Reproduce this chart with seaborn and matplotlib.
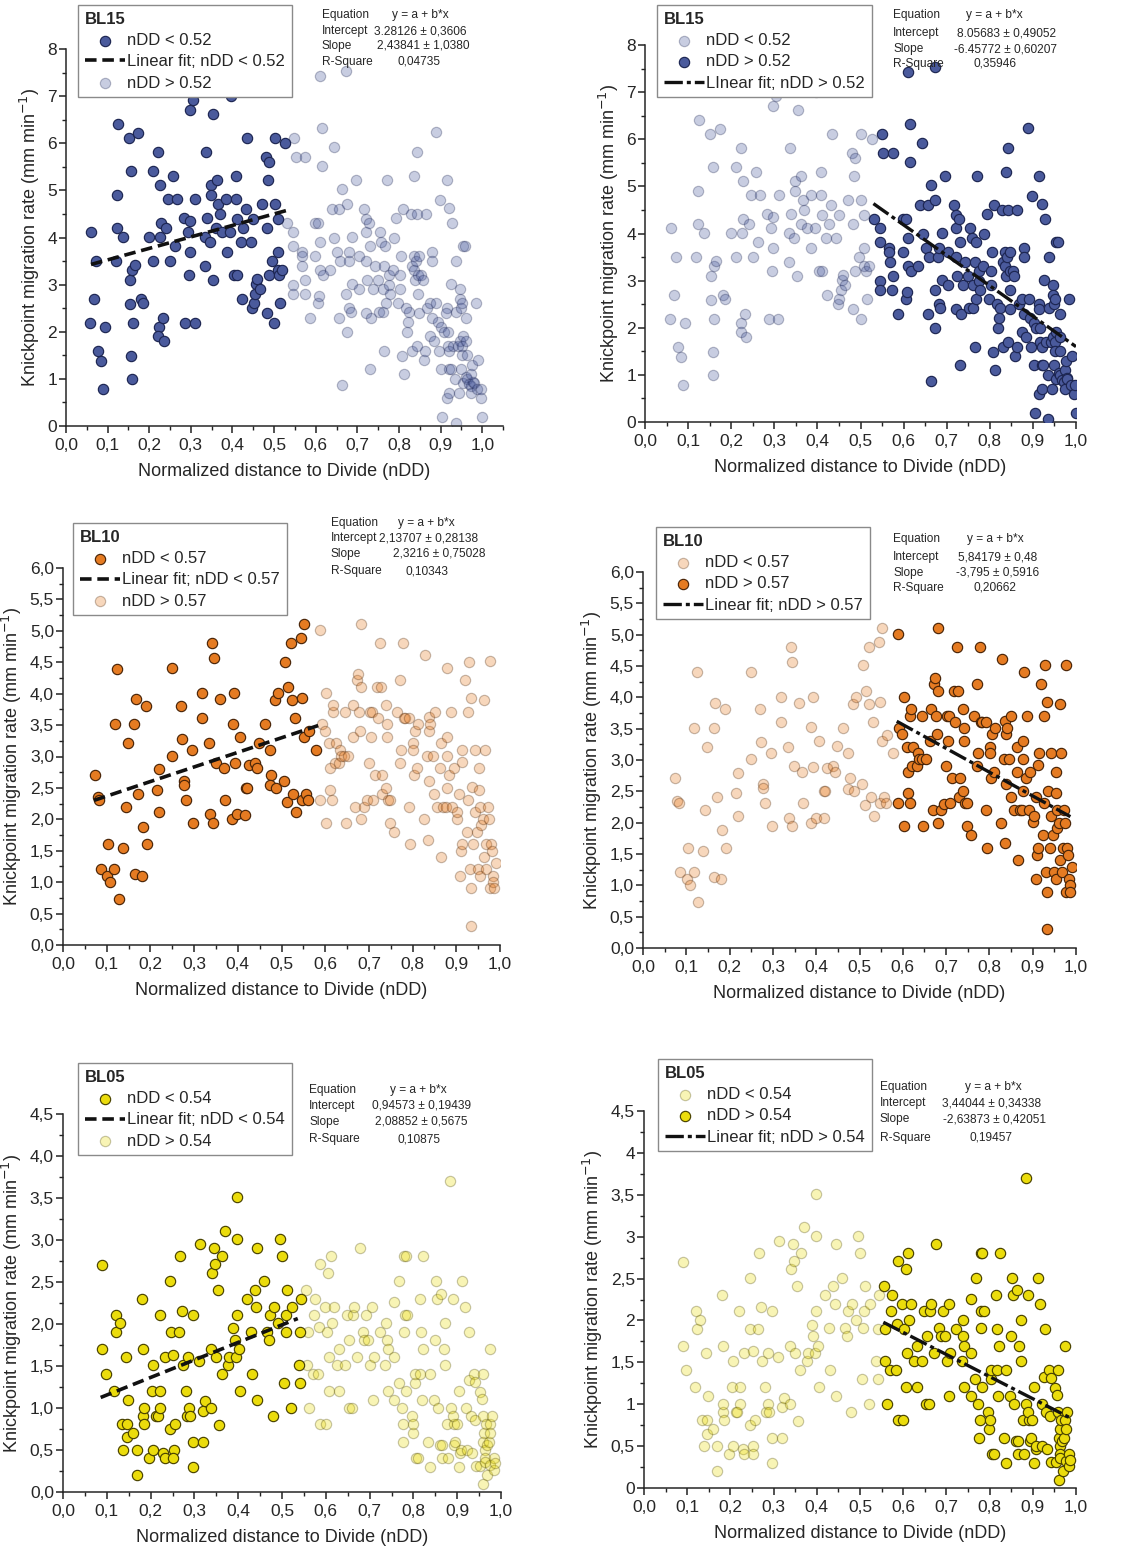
import numpy as np
import pandas as pd
import matplotlib
matplotlib.use("Agg")
import matplotlib.pyplot as plt
from matplotlib.ticker import MultipleLocator, FuncFormatter
import seaborn as sns

# ---- BL15 (split at nDD 0.52) ----
bl15_lo = [(0.060,4.11),(0.058,2.19),(0.068,2.70),(0.072,3.51),(0.077,1.59),(0.083,1.38),(0.093,2.10),(0.088,0.79),
           (0.125,6.41),(0.122,4.90),(0.123,4.21),(0.119,3.51),(0.138,4.01),(0.151,6.12),(0.157,5.41),(0.174,6.22),
           (0.154,3.10),(0.159,3.30),(0.165,3.41),(0.153,2.59),(0.161,2.19),(0.157,1.49),(0.158,0.99),(0.180,2.70),
           (0.185,2.61),(0.200,4.01),(0.210,5.41),(0.222,5.81),(0.210,3.51),(0.227,5.11),(0.228,4.31),(0.226,4.01),
           (0.241,4.21),(0.223,2.11),(0.222,1.90),(0.232,2.30),(0.235,1.80),(0.245,4.81),(0.251,3.51),(0.258,5.31),
           (0.266,4.81),(0.262,3.81),(0.284,4.41),(0.292,4.11),(0.297,4.35),(0.287,2.19),(0.309,2.19),(0.297,6.71),
           (0.304,6.92),(0.310,4.81),(0.298,3.70),(0.295,3.20),(0.336,5.81),(0.335,3.40),(0.339,4.41),(0.335,4.01),
           (0.345,3.91),(0.349,5.11),(0.349,4.91),(0.353,3.09),(0.354,6.62),(0.363,5.22),(0.366,4.71),(0.361,4.21),
           (0.369,4.50),(0.375,4.11),(0.385,4.81),(0.394,4.11),(0.386,3.70),(0.396,7.01),(0.408,5.31),(0.409,4.81),
           (0.411,4.40),(0.404,3.20),(0.411,3.20),(0.434,6.11),(0.432,4.61),(0.426,4.21),(0.421,3.91),(0.423,2.70),
           (0.444,3.91),(0.449,4.40),(0.447,2.51),(0.451,2.61),(0.454,2.80),(0.457,3.02),(0.460,3.12),(0.465,2.90),
           (0.470,4.71),(0.480,5.71),(0.487,5.61),(0.486,5.22),(0.482,4.21),(0.482,2.39),(0.488,3.20),(0.496,3.50),
           (0.500,2.19),(0.502,4.71),(0.502,6.11),(0.509,4.40),(0.509,3.70),(0.509,3.30),(0.512,3.20),(0.520,3.30),
           (0.515,2.61),(0.527,6.01)]
bl15_hi = [(0.532,4.30),(0.545,4.11),(0.545,3.81),(0.549,6.11),(0.553,5.71),(0.575,5.71),(0.545,3.00),(0.545,2.80),
           (0.566,3.70),(0.566,3.60),(0.568,3.40),(0.575,3.10),(0.574,2.80),(0.586,2.30),(0.598,3.60),(0.599,4.31),
           (0.606,4.31),(0.610,3.91),(0.610,7.43),(0.615,6.32),(0.614,5.51),(0.610,3.30),(0.606,2.61),(0.609,2.75),
           (0.618,3.20),(0.634,3.31),(0.643,5.91),(0.638,4.61),(0.645,3.99),(0.651,3.70),(0.657,4.61),(0.663,5.02),
           (0.659,3.50),(0.656,2.30),(0.664,0.88),(0.672,7.53),(0.674,4.71),(0.673,2.80),(0.674,2.00),(0.679,3.50),
           (0.681,3.70),(0.688,4.01),(0.688,3.01),(0.697,5.21),(0.703,3.60),(0.703,2.90),(0.681,2.51),(0.684,2.41),
           (0.717,4.61),(0.721,4.40),(0.721,4.11),(0.722,3.50),(0.723,3.10),(0.729,4.30),(0.731,3.81),(0.721,2.39),
           (0.733,2.30),(0.731,1.20),(0.737,2.90),(0.742,3.40),(0.749,3.10),(0.752,2.41),(0.762,2.41),(0.754,4.11),
           (0.758,3.90),(0.767,3.81),(0.765,3.40),(0.761,2.90),(0.768,2.61),(0.765,1.59),(0.771,5.21),(0.776,3.20),
           (0.775,3.00),(0.778,2.80),(0.787,3.99),(0.785,3.30),(0.793,4.41),(0.797,2.61),(0.802,2.90),(0.805,3.60),
           (0.803,3.20),(0.807,1.49),(0.810,4.61),(0.813,1.10),(0.817,2.51),(0.819,2.00),(0.823,2.41),(0.821,2.21),
           (0.829,4.50),(0.831,1.59),(0.831,3.40),(0.835,3.60),(0.835,3.30),(0.837,5.31),(0.840,3.50),(0.838,3.10),
           (0.843,5.82),(0.843,4.50),(0.843,1.70),(0.847,3.60),(0.846,3.20),(0.846,2.80),(0.848,2.39),(0.853,3.20),
           (0.857,3.10),(0.859,1.40),(0.863,1.59),(0.864,4.50),(0.867,2.51),(0.875,2.61),(0.879,3.70),(0.880,3.50),
           (0.880,2.30),(0.875,1.90),(0.884,1.80),(0.888,6.23),(0.890,2.61),(0.893,2.21),(0.898,4.80),(0.896,1.59),
           (0.902,1.20),(0.902,2.11),(0.904,0.19),(0.908,2.00),(0.915,5.21),(0.915,2.51),(0.914,2.39),(0.917,2.00),
           (0.917,1.70),(0.920,1.59),(0.920,1.20),(0.921,4.62),(0.927,4.31),(0.925,3.01),(0.924,1.20),(0.915,0.60),
           (0.920,0.69),(0.930,1.70),(0.934,1.00),(0.936,0.07),(0.938,3.50),(0.938,2.41),(0.941,1.70),(0.944,0.69),
           (0.947,2.90),(0.947,2.70),(0.948,2.51),(0.951,2.61),(0.947,1.80),(0.950,1.20),(0.951,1.70),(0.952,1.50),
           (0.953,3.81),(0.958,3.81),(0.954,0.91),(0.954,1.90),(0.962,1.80),(0.962,2.30),(0.964,1.50),(0.960,1.05),
           (0.964,0.99),(0.968,0.89),(0.972,0.84),(0.974,1.10),(0.976,1.30),(0.974,0.69),(0.978,0.94),(0.980,0.91),
           (0.984,2.61),(0.988,0.79),(0.990,1.40),(0.996,0.59),(0.998,0.79),(0.999,0.19)]

# ---- BL10 (split at nDD 0.57) ----
bl10_lo = [(0.073,2.71),(0.079,2.35),(0.082,2.31),(0.086,1.21),(0.101,1.10),(0.103,1.60),(0.108,1.00),(0.117,1.21),
           (0.118,3.51),(0.124,4.40),(0.128,0.74),(0.138,1.55),(0.144,2.20),(0.148,3.21),(0.163,3.51),(0.166,3.91),
           (0.164,1.13),(0.171,2.41),(0.180,1.10),(0.182,1.88),(0.190,3.81),(0.192,1.60),(0.214,2.47),(0.220,2.80),
           (0.220,2.11),(0.250,3.01),(0.250,4.41),(0.271,3.81),(0.272,3.28),(0.276,2.61),(0.278,2.55),(0.281,2.31),
           (0.295,3.11),(0.298,1.94),(0.318,4.01),(0.318,3.61),(0.334,3.21),(0.337,2.08),(0.342,4.81),(0.345,4.56),
           (0.344,1.94),(0.349,2.90),(0.360,3.91),(0.368,2.81),(0.370,2.31),(0.389,3.52),(0.392,4.01),(0.393,2.89),
           (0.387,2.00),(0.399,2.08),(0.406,3.31),(0.417,2.07),(0.418,2.50),(0.421,2.50),(0.426,2.87),(0.439,2.90),
           (0.443,2.81),(0.449,3.22),(0.463,3.51),(0.473,3.11),(0.477,2.71),(0.473,2.54),(0.484,3.90),(0.487,2.50),
           (0.493,4.01),(0.505,2.61),(0.508,4.51),(0.513,2.28),(0.516,4.10),(0.522,4.81),(0.523,3.90),(0.531,3.61),
           (0.527,2.41),(0.533,2.11),(0.544,4.88),(0.548,3.93),(0.551,5.11),(0.551,3.31),(0.547,2.31),(0.557,2.41),
           (0.561,2.31),(0.563,3.40),(0.578,3.11)]
bl10_hi = [(0.589,5.01),(0.589,2.31),(0.592,3.51),(0.599,3.41),(0.602,4.01),(0.602,1.94),(0.609,3.21),(0.611,2.81),
           (0.612,2.47),(0.616,2.31),(0.617,3.71),(0.618,3.82),(0.624,3.21),(0.622,2.90),(0.632,2.90),(0.634,3.11),
           (0.637,3.01),(0.645,3.71),(0.647,1.94),(0.644,3.01),(0.653,3.01),(0.663,3.31),(0.664,3.82),(0.669,2.20),
           (0.673,4.22),(0.674,4.31),(0.677,3.71),(0.679,3.41),(0.682,4.10),(0.682,2.00),(0.681,5.11),(0.689,2.20),
           (0.695,2.30),(0.700,2.90),(0.702,3.71),(0.704,3.31),(0.707,3.71),(0.710,2.31),(0.714,2.71),(0.718,4.10),
           (0.721,3.61),(0.725,4.81),(0.728,4.10),(0.729,2.41),(0.731,2.71),(0.740,3.82),(0.742,3.51),(0.742,3.31),
           (0.740,2.50),(0.743,2.31),(0.748,2.31),(0.748,1.94),(0.757,1.80),(0.765,3.71),(0.771,4.22),(0.771,2.90),
           (0.774,3.11),(0.779,4.81),(0.780,3.61),(0.783,3.61),(0.792,3.61),(0.792,2.20),(0.795,1.60),(0.802,3.21),
           (0.802,3.11),(0.803,2.71),(0.805,3.41),(0.811,2.81),(0.813,3.51),(0.826,2.00),(0.828,4.61),(0.834,3.01),
           (0.837,3.63),(0.838,3.41),(0.840,3.51),(0.836,1.67),(0.838,2.61),(0.846,3.01),(0.851,3.71),(0.850,2.41),
           (0.856,2.20),(0.864,3.21),(0.866,1.40),(0.863,2.81),(0.870,2.20),(0.876,2.20),(0.879,4.41),(0.878,3.31),
           (0.878,3.01),(0.878,2.50),(0.884,2.71),(0.887,3.71),(0.891,2.20),(0.894,2.81),(0.901,2.01),(0.902,2.11),
           (0.907,2.41),(0.908,1.10),(0.910,1.49),(0.912,1.60),(0.913,2.92),(0.914,3.11),(0.920,4.21),(0.924,1.80),
           (0.927,2.31),(0.928,4.51),(0.927,3.71),(0.931,1.21),(0.933,0.90),(0.933,3.93),(0.935,2.51),(0.939,1.60),
           (0.943,3.11),(0.943,2.11),(0.947,1.80),(0.950,1.21),(0.953,2.81),(0.953,2.47),(0.955,2.20),(0.956,1.91),
           (0.954,1.10),(0.960,2.00),(0.963,1.40),(0.963,3.90),(0.966,3.11),(0.968,1.21),(0.969,1.60),(0.973,2.20),
           (0.974,2.00),(0.976,4.52),(0.977,0.90),(0.979,1.60),(0.981,1.49),(0.983,1.10),(0.985,1.00),(0.986,0.90),
           (0.991,1.30),(0.933,0.30)]

# ---- BL05 (split at nDD 0.54) ----
bl05_lo = [(0.090,2.70),(0.090,1.70),(0.098,1.41),(0.117,1.20),(0.120,2.11),(0.122,1.90),(0.130,2.01),(0.134,0.81),
           (0.138,0.50),(0.143,1.61),(0.146,0.81),(0.145,0.65),(0.149,1.10),(0.159,0.70),(0.169,0.50),(0.168,0.20),
           (0.181,2.30),(0.183,1.70),(0.182,0.91),(0.184,1.00),(0.185,0.81),(0.196,0.41),(0.205,1.51),(0.204,1.20),
           (0.206,0.50),(0.212,0.91),(0.216,0.91),(0.221,2.11),(0.222,1.20),(0.222,1.00),(0.232,1.61),(0.229,0.46),
           (0.232,0.41),(0.245,2.51),(0.246,1.90),(0.245,0.75),(0.252,1.63),(0.253,0.50),(0.252,0.41),(0.256,0.81),
           (0.265,1.90),(0.267,2.81),(0.271,2.16),(0.273,1.51),(0.280,1.20),(0.283,0.91),(0.286,1.61),(0.287,1.00),
           (0.290,0.91),(0.296,0.60),(0.297,2.11),(0.297,0.30),(0.312,2.95),(0.311,1.56),(0.319,0.60),(0.319,0.97),
           (0.324,1.08),(0.337,1.00),(0.337,1.70),(0.341,2.61),(0.347,2.71),(0.345,2.91),(0.349,1.61),(0.354,2.41),
           (0.357,0.80),(0.362,1.41),(0.364,2.81),(0.370,3.11),(0.377,1.51),(0.380,1.61),(0.389,1.95),(0.392,1.81),
           (0.395,1.61),(0.397,3.01),(0.398,3.51),(0.398,2.11),(0.402,1.70),(0.404,1.20),(0.419,2.30),(0.429,1.91),
           (0.431,1.41),(0.438,2.41),(0.441,2.20),(0.444,2.91),(0.444,1.10),(0.459,2.51),(0.466,1.91),(0.471,1.81),
           (0.473,2.11),(0.479,0.91),(0.482,2.20),(0.490,2.01),(0.495,3.01),(0.501,2.81),(0.505,1.30),(0.508,1.91),
           (0.509,2.11),(0.512,2.41),(0.521,1.00),(0.523,2.20),(0.538,1.51),(0.541,1.30),(0.542,1.90),(0.544,2.30)]
bl05_hi = [(0.555,2.41),(0.558,1.51),(0.559,1.90),(0.562,1.00),(0.570,1.41),(0.572,2.11),(0.575,2.30),(0.583,1.41),
           (0.585,1.96),(0.587,2.71),(0.587,0.81),(0.598,2.20),(0.600,0.81),(0.602,1.90),(0.606,2.61),(0.607,1.20),
           (0.608,1.61),(0.611,2.81),(0.614,2.01),(0.619,2.20),(0.625,1.51),(0.631,1.70),(0.631,1.20),(0.644,1.51),
           (0.648,2.11),(0.652,1.00),(0.654,1.81),(0.660,1.00),(0.662,2.11),(0.665,2.20),(0.671,1.61),(0.677,2.91),
           (0.684,1.91),(0.688,1.81),(0.692,2.11),(0.696,1.81),(0.701,1.51),(0.706,2.20),(0.707,1.10),(0.709,1.61),
           (0.723,1.90),(0.735,1.51),(0.738,2.01),(0.739,1.81),(0.741,1.70),(0.741,1.20),(0.756,1.10),(0.756,1.61),
           (0.756,2.26),(0.768,2.51),(0.767,1.30),(0.773,1.00),(0.777,0.81),(0.776,0.60),(0.779,1.91),(0.779,2.81),
           (0.781,2.11),(0.783,2.81),(0.783,1.20),(0.786,2.11),(0.797,0.91),(0.799,0.70),(0.800,0.81),(0.804,1.30),
           (0.804,1.41),(0.806,0.41),(0.811,0.41),(0.814,2.30),(0.816,1.41),(0.817,1.90),(0.819,1.10),(0.821,1.70),
           (0.823,2.81),(0.834,0.60),(0.837,0.30),(0.838,1.41),(0.848,1.10),(0.850,1.81),(0.851,2.51),(0.854,2.30),
           (0.857,1.00),(0.860,0.56),(0.863,2.36),(0.865,0.56),(0.865,0.41),(0.869,1.70),(0.872,1.51),(0.873,2.01),
           (0.877,0.81),(0.880,0.41),(0.884,3.70),(0.885,1.00),(0.890,2.30),(0.892,0.81),(0.890,0.91),(0.893,0.56),
           (0.896,0.60),(0.899,0.81),(0.903,1.20),(0.903,0.30),(0.907,0.46),(0.908,0.50),(0.912,2.51),(0.917,2.20),
           (0.921,1.00),(0.922,0.50),(0.926,1.33),(0.928,1.90),(0.931,0.91),(0.933,0.46),(0.938,1.41),(0.940,0.86),
           (0.941,1.31),(0.943,0.31),(0.951,1.19),(0.953,0.31),(0.957,1.11),(0.959,1.41),(0.959,0.91),(0.960,0.60),
           (0.960,0.10),(0.962,0.70),(0.963,0.50),(0.963,0.41),(0.964,0.36),(0.966,0.81),(0.968,0.56),(0.969,0.20),
           (0.972,0.60),(0.974,0.81),(0.976,0.70),(0.976,0.32),(0.974,1.70),(0.980,0.91),(0.983,0.41),(0.984,0.26),
           (0.987,0.34)]

# fit results printed on the chart: (intercept, slope, x start, x end)
fits = {
    "BL15_lo": (3.28126, 2.43841, 0.06, 0.53),
    "BL15_hi": (8.05683, -6.45772, 0.53, 1.00),
    "BL10_lo": (2.13707, 2.3216, 0.071, 0.584),
    "BL10_hi": (5.84179, -3.795, 0.586, 0.987),
    "BL05_lo": (0.94573, 2.08852, 0.086, 0.536),
    "BL05_hi": (3.44044, -2.63873, 0.554, 0.986),
}
eq_text = {
    "BL15_lo": ["y = a + b*x", "3.28126 \u00b1 0,3606", "2,43841 \u00b1 1,0380", "0,04735"],
    "BL15_hi": ["y = a + b*x", "8.05683 \u00b1 0,49052", "-6.45772 \u00b1 0,60207", "0,35946"],
    "BL10_lo": ["y = a + b*x", "2,13707 \u00b1 0,28138", "2,3216 \u00b1 0,75028", "0,10343"],
    "BL10_hi": ["y = a + b*x", "5,84179 \u00b1 0,48", "-3,795 \u00b1 0,5916", "0,20662"],
    "BL05_lo": ["y = a + b*x", "0,94573 \u00b1 0,19439", "2,08852 \u00b1 0,5675", "0,10875"],
    "BL05_hi": ["y = a + b*x", "3,44044 \u00b1 0,34338", "-2,63873 \u00b1 0,42051", "0,19457"],
}
eq_labels = ["Equation", "Intercept", "Slope", "R-Square"]

sns.set_style("ticks")
plt.rcParams['font.family'] = ['Liberation Sans', 'DejaVu Sans']
plt.rcParams['axes.linewidth'] = 1.1

W, H = 1136, 1550
fig = plt.figure(figsize=(W / 100, H / 100), dpi=100)


def px_axes(x0, x1, ytop, ybot):
    return fig.add_axes([x0 / W, 1 - ybot / H, (x1 - x0) / W, (ybot - ytop) / H])


def comma(fmt):
    return FuncFormatter(lambda v, p: (fmt % v).replace('.', ','))


panels = [
    # name, lo, hi, thr, side, axes px, xmax, ymax, ystep, yminor, yfmt, legend px, eq px, fit label, colours
    ("BL15", bl15_lo, bl15_hi, "0.52", "lo", (66, 503, 49, 426), 1.05, 8, 1, 0.5, "%d", (78, 5),
     (322, [392, 374, 377, 398], [15, 31, 46, 62]), "Linear fit; nDD < 0.52", "#4a5a9c", "#1d2652"),
    ("BL15", bl15_lo, bl15_hi, "0.52", "hi", (645, 1076, 45, 422), 1.0, 8, 1, 0.5, "%d", (657, 5),
     (893, [966, 957, 954, 973], [15, 33, 49, 64]), "LInear fit; nDD > 0.52", "#4a5a9c", "#1d2652"),
    ("BL10", bl10_lo, bl10_hi, "0.57", "lo", (63, 500, 568, 945), 1.0, 6, 0.5, 0.25, "%.1f", (73, 523),
     (331, [398, 379, 393, 406], [523, 538, 554, 571]), "Linear fit; nDD < 0.57", "#e57b22", "#4a2508"),
    ("BL10", bl10_lo, bl10_hi, "0.57", "hi", (643, 1076, 572, 948), 1.0, 6, 0.5, 0.25, "%.1f", (656, 527),
     (893, [967, 958, 956, 974], [539, 557, 573, 588]), "Linear fit; nDD > 0.57", "#e57b22", "#4a2508"),
    ("BL05", bl05_lo, bl05_hi, "0.54", "lo", (63, 501, 1114, 1492), 1.0, 4.5, 0.5, 0.25, "%.1f", (78, 1063),
     (309, [390, 372, 375, 398], [1090, 1106, 1122, 1139]), "Linear fit; nDD < 0.54", "#ebdc0c", "#4a4300"),
    ("BL05", bl05_lo, bl05_hi, "0.54", "hi", (644, 1076, 1111, 1488), 1.0, 4.5, 0.5, 0.25, "%g", (658, 1059),
     (880, [965, 942, 943, 970], [1087, 1103, 1119, 1138]), "Linear fit; nDD > 0.54", "#ebdc0c", "#4a4300"),
]

for (name, lo, hi, thr, side, box, xmax, ymax, ystep, yminor, yfmt, legpos, eqpos, fitlabel,
     fill, edge) in panels:
    x0, x1, yt, yb = box
    ax = px_axes(x0, x1, yt, yb)
    df_lo = pd.DataFrame(lo, columns=["nDD", "rate"])
    df_hi = pd.DataFrame(hi, columns=["nDD", "rate"])
    a_lo = 1.0 if side == "lo" else 0.3
    a_hi = 1.0 if side == "hi" else 0.3
    sns.scatterplot(data=df_lo, x="nDD", y="rate", ax=ax, color=fill, edgecolor=edge, linewidth=0.85,
                    s=55, alpha=a_lo, label="nDD < " + thr, zorder=3 if side == "lo" else 2)
    sns.scatterplot(data=df_hi, x="nDD", y="rate", ax=ax, color=fill, edgecolor=edge, linewidth=0.85,
                    s=55, alpha=a_hi, label="nDD > " + thr, zorder=3 if side == "hi" else 2)

    a, b, fx0, fx1 = fits[name + "_" + side]
    fx = np.array([fx0, fx1])
    if side == "lo":
        ax.plot(fx, a + b * fx, color="#111111", lw=2.6, dashes=(3.2, 1.6), label=fitlabel, zorder=4)
    else:
        ax.plot(fx, a + b * fx, color="#111111", lw=2.4, dashes=(5.5, 1.2, 1.2, 1.2), label=fitlabel, zorder=4)

    ax.set_xlim(0, xmax)
    ax.set_ylim(0, ymax)
    ax.set_xticks(np.arange(0, 1.001, 0.1))
    ax.xaxis.set_minor_locator(MultipleLocator(0.05))
    ax.yaxis.set_major_locator(MultipleLocator(ystep))
    ax.yaxis.set_minor_locator(MultipleLocator(yminor))
    ax.xaxis.set_major_formatter(comma("%.1f"))
    ax.yaxis.set_major_formatter(comma(yfmt))
    ax.tick_params(which="major", length=5, width=1.1, labelsize=12.5, color="#222222")
    ax.tick_params(axis="y", which="major", pad=1.5)
    ax.tick_params(which="minor", length=3, width=1.0, color="#222222")
    sns.despine(ax=ax)
    ax.set_xlabel("Normalized distance to Divide (nDD)", fontsize=13, labelpad=7)
    ax.set_ylabel("Knickpoint migration rate (mm min$^{-1}$)", fontsize=13, labelpad=4)

    handles, labels = ax.get_legend_handles_labels()
    hmap = dict(zip(labels, handles))
    if side == "lo":
        order = ["nDD < " + thr, fitlabel, "nDD > " + thr]
    else:
        order = ["nDD < " + thr, "nDD > " + thr, fitlabel]
    leg = ax.legend([hmap[k] for k in order], order, title=name, loc="upper left",
                    bbox_to_anchor=(legpos[0] / W, 1 - legpos[1] / H), bbox_transform=fig.transFigure,
                    borderaxespad=0, fontsize=12, title_fontproperties={"weight": "bold", "size": 12},
                    alignment="left", frameon=True, fancybox=False, edgecolor="#8a8a8a",
                    framealpha=1, handlelength=2.4, handletextpad=0.15, labelspacing=0.38,
                    borderpad=0.4)
    leg.get_frame().set_linewidth(1.0)

    lx, vxs, rys = eqpos
    for lab, val, vx, ry in zip(eq_labels, eq_text[name + "_" + side], vxs, rys):
        fig.text(lx / W, 1 - ry / H, lab, fontsize=8.6, va="center", ha="left")
        fig.text(vx / W, 1 - ry / H, val, fontsize=8.6, va="center", ha="left")

fig.savefig("out.png", dpi=100)
